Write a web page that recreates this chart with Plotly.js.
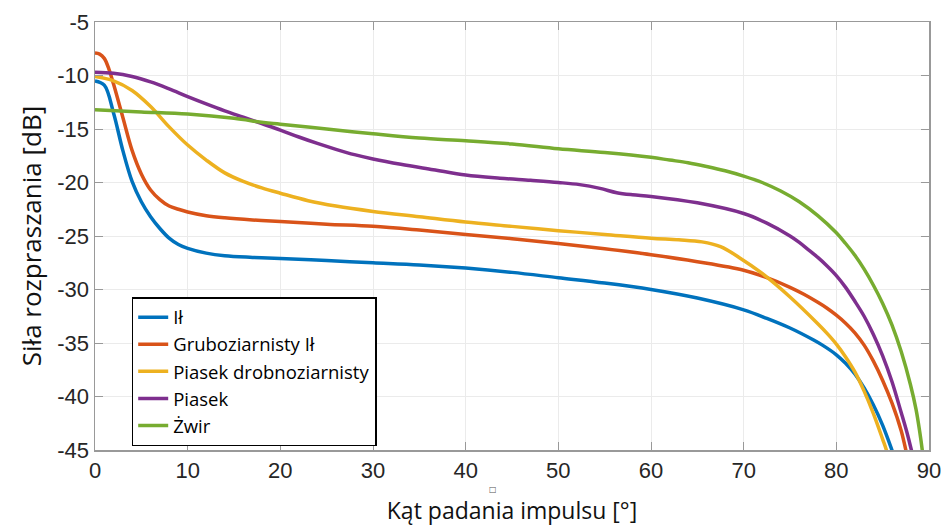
<!DOCTYPE html>
<html>
<head>
<meta charset="utf-8">
<script src="https://cdn.plot.ly/plotly-3.0.1.min.js"></script>
<style>html,body{margin:0;padding:0;background:#fff;}#chart{width:944px;height:526px;}</style>
</head>
<body>
<div id="chart"></div>
<script>
// Series names
const names = ["Ił", "Gruboziarnisty Ił", "Piasek drobnoziarnisty", "Piasek", "Żwir"];

// Ił
const ilX = [0, 1, 2, 3, 4, 5, 6, 7, 8, 9, 10, 12, 14, 17, 20, 25, 30, 35, 40, 45, 50, 55, 60, 65, 70, 72.5, 75, 77.5, 78.5, 80, 81, 82, 83, 84, 85, 86, 86.4];
const ilY = [-10.5, -10.9, -13.5, -17.0, -19.9, -21.8, -23.2, -24.3, -25.2, -25.8, -26.15, -26.6, -26.85, -27.0, -27.1, -27.3, -27.5, -27.7, -28.0, -28.4, -28.9, -29.4, -30.0, -30.8, -31.9, -32.7, -33.6, -34.7, -35.2, -36.1, -36.9, -37.9, -39.2, -40.8, -42.7, -45.0, -46.0];

// Gruboziarnisty Ił
const grX = [0, 0.5, 1, 1.5, 2, 3, 4, 5, 6, 7, 8, 9, 10, 12, 14, 17, 20, 25, 30, 35, 40, 45, 50, 55, 60, 65, 70, 72.5, 75, 76.5, 78, 79, 80, 81, 82, 83, 84, 85, 86, 87, 87.5, 87.8];
const grY = [-7.9, -8.0, -8.4, -9.4, -10.8, -13.9, -17.0, -19.2, -20.7, -21.6, -22.2, -22.5, -22.75, -23.1, -23.3, -23.5, -23.65, -23.9, -24.1, -24.45, -24.85, -25.25, -25.7, -26.2, -26.75, -27.4, -28.2, -28.9, -29.8, -30.45, -31.2, -31.75, -32.4, -33.15, -34.05, -35.2, -36.7, -38.5, -40.6, -43.2, -45.0, -46.0];

// Piasek drobnoziarnisty
const pdX = [0, 2, 4, 6, 8, 10, 12, 14, 16, 18, 20, 23, 26, 30, 35, 40, 45, 50, 55, 60, 63, 65.5, 67.5, 69.5, 72, 75, 78, 79, 80, 81, 82, 83, 84, 85, 85.4, 85.7];
const pdY = [-10.1, -10.5, -11.4, -12.9, -14.8, -16.5, -17.9, -19.1, -19.9, -20.5, -21.0, -21.7, -22.2, -22.7, -23.2, -23.7, -24.1, -24.5, -24.85, -25.2, -25.35, -25.55, -26.0, -27.0, -28.5, -30.7, -33.2, -34.1, -35.1, -36.3, -37.7, -39.5, -41.6, -44.0, -45.0, -46.0];

// Piasek
const psX = [0, 2, 4, 6, 8, 10, 12, 14, 16, 18, 20, 22, 24, 26, 28, 30, 33, 36.5, 40, 43.7, 47, 50, 52.3, 54.5, 56.3, 58, 60, 65, 70, 72.5, 75, 76, 77, 78, 79, 80, 81, 82, 83, 84, 85, 86, 87, 87.6, 88.1, 88.4];
const psY = [-9.7, -9.8, -10.1, -10.6, -11.25, -11.97, -12.65, -13.3, -13.9, -14.5, -15.1, -15.75, -16.35, -16.9, -17.4, -17.8, -18.3, -18.8, -19.3, -19.6, -19.8, -20.0, -20.2, -20.55, -20.95, -21.15, -21.3, -21.9, -22.9, -23.8, -25.0, -25.6, -26.3, -27.0, -27.8, -28.7, -29.8, -31.1, -32.5, -34.2, -36.2, -38.6, -41.5, -43.3, -45.0, -46.0];

// Żwir
const zwX = [0, 5, 10, 15, 18.2, 20, 25, 30, 35, 40, 45, 50, 55, 60, 62, 64, 66, 68, 70, 72, 74, 76, 78, 80, 81, 82, 83, 84, 85, 86, 87, 88, 88.6, 89, 89.3, 89.4];
const zwY = [-13.2, -13.4, -13.6, -14.0, -14.4, -14.55, -15.0, -15.45, -15.85, -16.1, -16.4, -16.85, -17.2, -17.65, -17.9, -18.15, -18.5, -18.9, -19.4, -20.0, -20.8, -21.8, -23.1, -24.7, -25.7, -26.8, -28.1, -29.6, -31.3, -33.3, -35.8, -38.9, -41.2, -43.3, -45.2, -46.0];

// Axis ticks
const xTicks = [0, 10, 20, 30, 40, 50, 60, 70, 80, 90];
const yTicks = [-45, -40, -35, -30, -25, -20, -15, -10, -5];

const colors = ["#0072BD", "#D95319", "#EDB120", "#7E2F8E", "#77AC30"];
const xs = [ilX, grX, pdX, psX, zwX];
const ys = [ilY, grY, pdY, psY, zwY];

const traces = names.map((n, i) => ({
  type: "scatter",
  mode: "lines",
  name: n,
  x: xs[i],
  y: ys[i],
  line: {color: colors[i], width: 3.5, shape: "spline", smoothing: 1.0},
  cliponaxis: true
}));

const tickFont = {family: "Liberation Sans, Arial, sans-serif", size: 22, color: "#262626"};

const layout = {
  width: 944,
  height: 526,
  margin: {l: 95, r: 15, t: 22, b: 76},
  paper_bgcolor: "#ffffff",
  plot_bgcolor: "#ffffff",
  showlegend: true,
  legend: {
    x: 0.044, y: 0.357, xanchor: "left", yanchor: "top",
    bgcolor: "#ffffff", bordercolor: "#000000", borderwidth: 1.5,
    font: {family: "Open Sans, Noto Sans, sans-serif", size: 18.5, color: "#000"},
    itemwidth: 30, tracegroupgap: 0
  },
  xaxis: {
    range: [0, 90],
    tickvals: xTicks,
    ticktext: xTicks.map(String),
    ticks: "inside", ticklen: 8, tickcolor: "#999",
    showline: true, linecolor: "#999", linewidth: 1.5, mirror: "ticks",
    showgrid: true, gridcolor: "#ebebeb", gridwidth: 1,
    zeroline: false,
    tickfont: tickFont,
    title: {text: "Kąt padania impulsu [°]", font: {family: "Open Sans, Noto Sans, sans-serif", size: 23, color: "#111"}, standoff: 22}
  },
  yaxis: {
    range: [-45, -5],
    tickvals: yTicks,
    ticktext: yTicks.map(String),
    ticks: "inside", ticklen: 8, tickcolor: "#999",
    showline: true, linecolor: "#999", linewidth: 1.5, mirror: "ticks",
    showgrid: true, gridcolor: "#ebebeb", gridwidth: 1,
    zeroline: false,
    tickfont: tickFont,
    title: {text: "Siła rozpraszania [dB]", font: {family: "Open Sans, Noto Sans, sans-serif", size: 26, color: "#111"}, standoff: 8}
  },
  annotations: [{
    xref: "paper", yref: "paper", x: (493 - 95) / 834, y: -(489 - 450) / 428,
    yanchor: "middle", xanchor: "center",
    text: "□", showarrow: false, font: {family: "DejaVu Sans", size: 8, color: "#555"}
  }]
};

Plotly.newPlot("chart", traces, layout, {displayModeBar: false, staticPlot: true});
</script>
</body>
</html>
